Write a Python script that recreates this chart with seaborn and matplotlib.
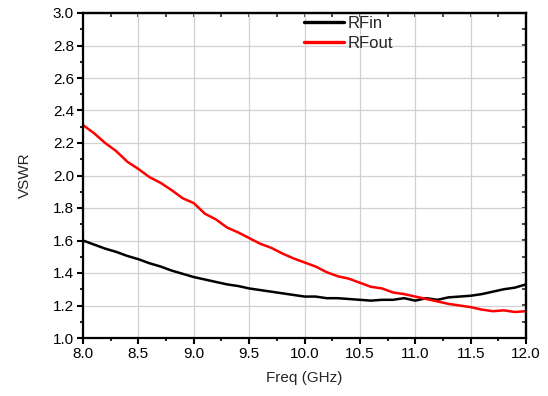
import numpy as np
import pandas as pd
import matplotlib
matplotlib.use('Agg')
import matplotlib.pyplot as plt
from matplotlib.ticker import MultipleLocator
import seaborn as sns

# Datos (frecuencia en GHz, VSWR)
freq = [8.0, 8.1, 8.2, 8.3, 8.4, 8.5, 8.6, 8.7, 8.8, 8.9,
        9.0, 9.1, 9.2, 9.3, 9.4, 9.5, 9.6, 9.7, 9.8, 9.9,
        10.0, 10.1, 10.2, 10.3, 10.4, 10.5, 10.6, 10.7, 10.8, 10.9,
        11.0, 11.1, 11.2, 11.3, 11.4, 11.5, 11.6, 11.7, 11.8, 11.9, 12.0]
rf_in = [1.600, 1.575, 1.550, 1.530, 1.505, 1.485, 1.460, 1.440, 1.415, 1.395,
         1.375, 1.360, 1.345, 1.330, 1.320, 1.305, 1.295, 1.285, 1.275, 1.265,
         1.255, 1.255, 1.245, 1.245, 1.240, 1.235, 1.230, 1.235, 1.235, 1.245,
         1.230, 1.245, 1.235, 1.250, 1.255, 1.260, 1.270, 1.285, 1.300, 1.310, 1.330]
rf_out = [2.310, 2.260, 2.200, 2.150, 2.085, 2.040, 1.990, 1.955, 1.910, 1.860,
          1.830, 1.765, 1.730, 1.680, 1.650, 1.615, 1.580, 1.555, 1.520, 1.490,
          1.465, 1.440, 1.405, 1.380, 1.365, 1.340, 1.315, 1.305, 1.280, 1.270,
          1.255, 1.240, 1.225, 1.210, 1.200, 1.190, 1.175, 1.165, 1.170, 1.160, 1.165]
series_names = ['RFin', 'RFout']
series_colors = ['black', 'red']

df = pd.DataFrame({
    'Freq (GHz)': freq * 2,
    'VSWR': rf_in + rf_out,
    'serie': [series_names[0]] * len(freq) + [series_names[1]] * len(freq),
})

sns.set_style('ticks')
plt.rcParams['font.family'] = ['Liberation Sans', 'DejaVu Sans']
plt.rcParams['font.size'] = 11

fig = plt.figure(figsize=(5.48, 3.96), dpi=100)
ax = fig.add_axes([83 / 548, 1 - 338 / 396, 443 / 548, 325 / 396])

sns.lineplot(data=df, x='Freq (GHz)', y='VSWR', hue='serie',
             palette=dict(zip(series_names, series_colors)),
             linewidth=1.8, ax=ax, legend=True)

ax.set_xlim(8.0, 12.0)
ax.set_ylim(1.0, 3.0)
ax.xaxis.set_major_locator(MultipleLocator(0.5))
ax.xaxis.set_minor_locator(MultipleLocator(0.25))
ax.yaxis.set_major_locator(MultipleLocator(0.2))
ax.yaxis.set_minor_locator(MultipleLocator(0.1))
ax.xaxis.set_major_formatter(matplotlib.ticker.FormatStrFormatter('%.1f'))
ax.yaxis.set_major_formatter(matplotlib.ticker.FormatStrFormatter('%.1f'))

ax.grid(True, which='major', color='#d0d0d0', linewidth=0.9, linestyle='-')
ax.set_axisbelow(True)

for s in ax.spines.values():
    s.set_visible(True)
    s.set_linewidth(1.6)
    s.set_color('black')

ax.tick_params(axis='both', which='major', direction='out', length=4.5, width=1.5,
               labelsize=11, colors='black', pad=2)
ax.tick_params(axis='both', which='minor', direction='out', length=2.5, width=1.5)

# Ejes secundarios para los ticks hacia dentro en arriba y derecha
top = ax.secondary_xaxis('top')
top.xaxis.set_major_locator(MultipleLocator(0.5))
top.xaxis.set_minor_locator(MultipleLocator(0.25))
top.tick_params(which='both', direction='in', length=3, width=1.2, labeltop=False)
right = ax.secondary_yaxis('right')
right.yaxis.set_major_locator(MultipleLocator(0.2))
right.yaxis.set_minor_locator(MultipleLocator(0.1))
right.tick_params(which='both', direction='in', length=3, width=1.2, labelright=False)
for s in list(top.spines.values()) + list(right.spines.values()):
    s.set_linewidth(1.6)

ax.set_xlabel('Freq (GHz)', fontsize=11, labelpad=7)
ax.set_ylabel('VSWR', fontsize=11, labelpad=15)

leg = ax.legend(loc='upper left', bbox_to_anchor=(0.499, 0.99), frameon=False,
                handlelength=2.4, handletextpad=0.2, labelspacing=0.3,
                borderpad=0, borderaxespad=0, fontsize=12)
for line in leg.get_lines():
    line.set_linewidth(2.4)

plt.savefig('out.png', dpi=100)
plt.close()
